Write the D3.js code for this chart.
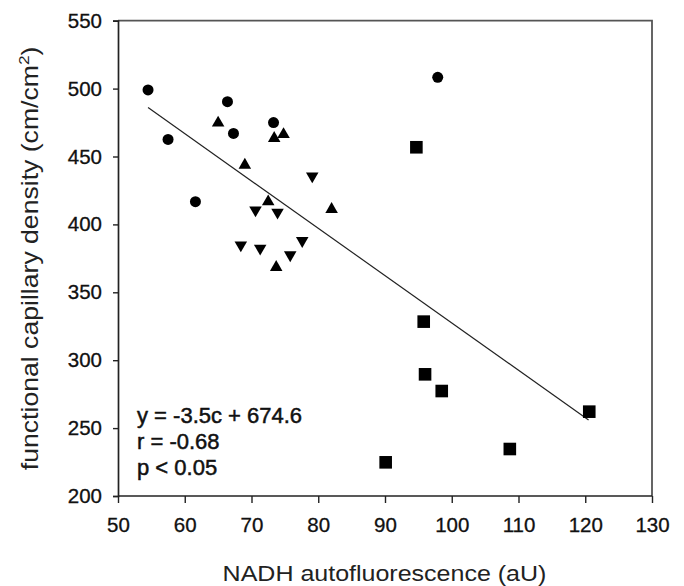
<!DOCTYPE html>
<html>
<head>
<meta charset="utf-8">
<script src="https://cdn.jsdelivr.net/npm/d3@7"></script>
<style>
  body { margin: 0; background: #fff; }
  svg { display: block; font-family: Arial, "Liberation Sans", sans-serif; }
</style>
</head>
<body>
<svg id="chart" width="684" height="586"></svg>
<script>
// values, one pair of arrays per marker group
const circleX = [54.5, 57.5, 61.6, 66.4, 67.3, 73.3, 97.9]
const circleY = [499, 462.6, 416.7, 490.4, 467, 475, 508.3]
const upX = [65.0, 69.0, 72.5, 73.4, 73.7, 74.8, 82.0]
const upY = [474.7, 443.7, 416.7, 463.4, 368.4, 466.3, 411.1]
const downX = [68.4, 70.6, 71.3, 73.9, 75.8, 77.6, 79.1]
const downY = [384.8, 410.6, 382.4, 408.9, 377.5, 388.0, 435.6]
const squareX = [90.1, 94.7, 95.8, 96.0, 98.5, 108.7, 120.6]
const squareY = [224.8, 456.8, 328.4, 289.6, 277.3, 234.6, 262.1]
const fitX = [54.5, 120.5]
const fitY = [486, 256]
const xTicks = [50, 60, 70, 80, 90, 100, 110, 120, 130]
const yTicks = [200, 250, 300, 350, 400, 450, 500, 550]
const notes = ['y = -3.5c + 674.6', 'r = -0.68', 'p < 0.05']

const margin = { top: 20.7, right: 32, bottom: 90, left: 118 }
const W = 684, H = 586
const svg = d3.select('#chart')

const x = d3.scaleLinear().domain([50, 130]).range([margin.left, W - margin.right])
const y = d3.scaleLinear().domain([200, 550]).range([H - margin.bottom, margin.top])

// frame on top and right
svg.append('path')
  .attr('d', `M${x(50)},${y(550)}H${x(130)}V${y(200)}`)
  .attr('fill', 'none')
  .attr('stroke', '#555')
  .attr('stroke-width', 1.8)

const xAxis = svg.append('g')
  .attr('transform', `translate(0,${y(200)})`)
  .call(d3.axisBottom(x).tickValues(xTicks).tickSizeOuter(0).tickSize(7).tickPadding(14))
const yAxis = svg.append('g')
  .attr('transform', `translate(${x(50)},0)`)
  .call(d3.axisLeft(y).tickValues(yTicks).tickSizeOuter(0).tickSize(5).tickPadding(11))

for (const ax of [xAxis, yAxis]) {
  ax.select('.domain').attr('stroke', '#222').attr('stroke-width', 1.7)
  ax.selectAll('.tick line').attr('stroke', '#222').attr('stroke-width', 1.4)
  ax.selectAll('.tick text')
    .attr('fill', '#111')
    .attr('stroke', '#111')
    .attr('stroke-width', 0.3)
    .style('font-size', '20.5px')
    .style('font-family', 'Arial, "Liberation Sans", sans-serif')
}
xAxis.select('.domain').attr('d', `M${x(50)},0H${x(130)}`)

// regression line
svg.append('line')
  .attr('x1', x(fitX[0])).attr('y1', y(fitY[0]))
  .attr('x2', x(fitX[1])).attr('y2', y(fitY[1]))
  .attr('stroke', '#222')
  .attr('stroke-width', 1.2)

const zip = (xs, ys) => xs.map((v, i) => [v, ys[i]])

svg.append('g').selectAll('circle')
  .data(zip(circleX, circleY))
  .join('circle')
  .attr('cx', d => x(d[0]))
  .attr('cy', d => y(d[1]))
  .attr('r', 5.5)
  .attr('fill', '#000')

const tri = d3.symbol().type(d3.symbolTriangle).size(68)
svg.append('g').selectAll('path')
  .data(zip(upX, upY))
  .join('path')
  .attr('d', tri)
  .attr('transform', d => `translate(${x(d[0])},${y(d[1])})`)
  .attr('fill', '#000')

svg.append('g').selectAll('path')
  .data(zip(downX, downY))
  .join('path')
  .attr('d', tri)
  .attr('transform', d => `translate(${x(d[0])},${y(d[1])}) rotate(180)`)
  .attr('fill', '#000')

svg.append('g').selectAll('rect')
  .data(zip(squareX, squareY))
  .join('rect')
  .attr('x', d => x(d[0]) - 6.3)
  .attr('y', d => y(d[1]) - 6.3)
  .attr('width', 12.6)
  .attr('height', 12.6)
  .attr('fill', '#000')

// statistics text
svg.append('g').selectAll('text')
  .data(notes)
  .join('text')
  .attr('x', 137)
  .attr('y', (d, i) => 423 + i * 25.8)
  .attr('fill', '#111')
  .attr('stroke', '#111')
  .attr('stroke-width', 0.5)
  .style('font-size', '22px')
  .text(d => d)

// axis titles, stretched along the text like the original
function stretchTo(sel, len) {
  const w = sel.node().getComputedTextLength()
  return len / w
}

const xt = svg.append('text')
  .attr('text-anchor', 'middle')
  .attr('fill', '#222')
  .style('font-size', '22.5px')
  .text('NADH autofluorescence (aU)')
const kx = stretchTo(xt, 324)
xt.attr('transform', `translate(384.5,581) scale(${kx},1)`)

const yt = svg.append('text')
  .attr('text-anchor', 'middle')
  .attr('fill', '#222')
  .style('font-size', '23px')
yt.append('tspan').text('functional capillary density (cm/cm')
yt.append('tspan').attr('dy', -9).style('font-size', '15px').text('2')
yt.append('tspan').attr('dy', 9).text(')')
const ky = stretchTo(yt, 424)
yt.attr('transform', `translate(37.5,${(y(200) + y(550)) / 2}) rotate(-90) scale(${ky},1)`)
</script>
</body>
</html>
